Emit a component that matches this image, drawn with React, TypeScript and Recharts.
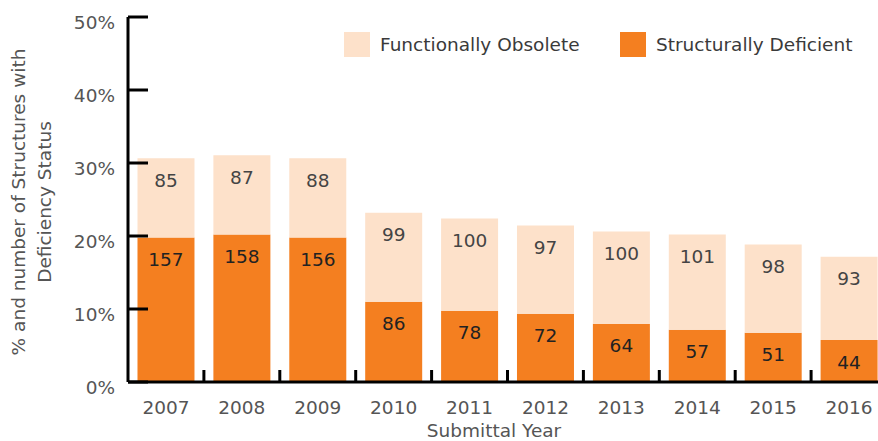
import { Bar, BarChart, LabelList, XAxis, YAxis } from 'recharts';

const years = ['2007', '2008', '2009', '2010', '2011', '2012', '2013', '2014', '2015', '2016'];
// share of structures (%)
const deficientPct = [19.8, 20.2, 19.8, 11.0, 9.75, 9.35, 7.95, 7.15, 6.75, 5.75];
const obsoletePct = [10.85, 10.85, 10.85, 12.2, 12.65, 12.1, 12.65, 13.05, 12.1, 11.4];
// counts printed inside the bars
const deficientCount = [157, 158, 156, 86, 78, 72, 64, 57, 51, 44];
const obsoleteCount = [85, 87, 88, 99, 100, 97, 100, 101, 98, 93];
const yTicks = [0, 10, 20, 30, 40, 50];

const data = years.map((year, i) => ({
  year,
  deficient: deficientPct[i],
  obsolete: obsoletePct[i],
  deficientCount: deficientCount[i],
  obsoleteCount: obsoleteCount[i],
}));

const W = 900;
const H = 441;
const LEFT = 128;
const RIGHT = 13;
const AXIS_Y = 382;
const BAND = (W - LEFT - RIGHT) / years.length;
const FONT = '"DejaVu Sans", sans-serif';
const TEXT = '#555';
const ORANGE = '#F47F20';
const PEACH = '#FDE1CA';

const YTick = ({ y, payload }: any) => (
  <g>
    <line x1={LEFT} x2={LEFT + 20} y1={y} y2={y} stroke="#000" strokeWidth={3} />
    <text x={115} y={y + 5} textAnchor="end" dominantBaseline="central" fontSize={18.5} fontFamily={FONT} fill={TEXT}>
      {payload.value}%
    </text>
  </g>
);

const XTick = ({ x, payload }: any) => (
  <g>
    <line x1={x + BAND / 2} x2={x + BAND / 2} y1={AXIS_Y} y2={AXIS_Y - 12} stroke="#000" strokeWidth={3} />
    <text x={x} y={AXIS_Y + 25} textAnchor="middle" dominantBaseline="central" fontSize={18.5} fontFamily={FONT} fill={TEXT}>
      {payload.value}
    </text>
  </g>
);

const inside = (color: string) => (props: any) => {
  const { x, y, width, value } = props;
  return (
    <text x={x + width / 2} y={y + 22} textAnchor="middle" dominantBaseline="central" fontSize={18.5} fontFamily={FONT} fill={color}>
      {value}
    </text>
  );
};

const YTitle = () => (
  <g fontFamily={FONT} fontSize={18.5} fill={TEXT} textAnchor="middle">
    <text transform="translate(18,202) rotate(-90)" dominantBaseline="central">% and number of Structures with</text>
    <text transform="translate(44,202) rotate(-90)" dominantBaseline="central">Deficiency Status</text>
  </g>
);

const XTitle = () => (
  <text x={494} y={430} textAnchor="middle" dominantBaseline="central" fontSize={18.5} fontFamily={FONT} fill={TEXT}>
    Submittal Year
  </text>
);

const legendItems = [
  { label: 'Functionally Obsolete', color: PEACH, left: 344 },
  { label: 'Structurally Deficient', color: ORANGE, left: 620 },
];

export default function App() {
  return (
    <div style={{ position: 'absolute', left: 0, top: 0, width: 878, height: 441, overflow: 'hidden', background: '#fff' }}>
      <BarChart width={W} height={H} data={data} margin={{ top: 17, right: RIGHT, bottom: 0, left: 0 }} barCategoryGap="12.5%">
        <XAxis
          dataKey="year"
          height={H - AXIS_Y}
          axisLine={{ stroke: '#000', strokeWidth: 3 }}
          tickLine={false}
          tick={<XTick />}
          label={<XTitle />}
        />
        <YAxis
          width={LEFT}
          domain={[0, 50]}
          ticks={yTicks}
          axisLine={{ stroke: '#000', strokeWidth: 3 }}
          tickLine={false}
          tick={<YTick />}
          label={<YTitle />}
        />
        <Bar dataKey="deficient" stackId="s" fill={ORANGE} isAnimationActive={false}>
          <LabelList dataKey="deficientCount" content={inside('#222')} />
        </Bar>
        <Bar dataKey="obsolete" stackId="s" fill={PEACH} isAnimationActive={false}>
          <LabelList dataKey="obsoleteCount" content={inside('#444')} />
        </Bar>
      </BarChart>
      {legendItems.map((it) => (
        <div key={it.label} style={{ position: 'absolute', left: it.left, top: 32, display: 'flex', alignItems: 'center' }}>
          <div style={{ width: 26, height: 25, background: it.color }} />
          <span style={{ marginLeft: 10, fontFamily: FONT, fontSize: 18.5, color: '#3a3a3a', lineHeight: '25px' }}>{it.label}</span>
        </div>
      ))}
    </div>
  );
}
